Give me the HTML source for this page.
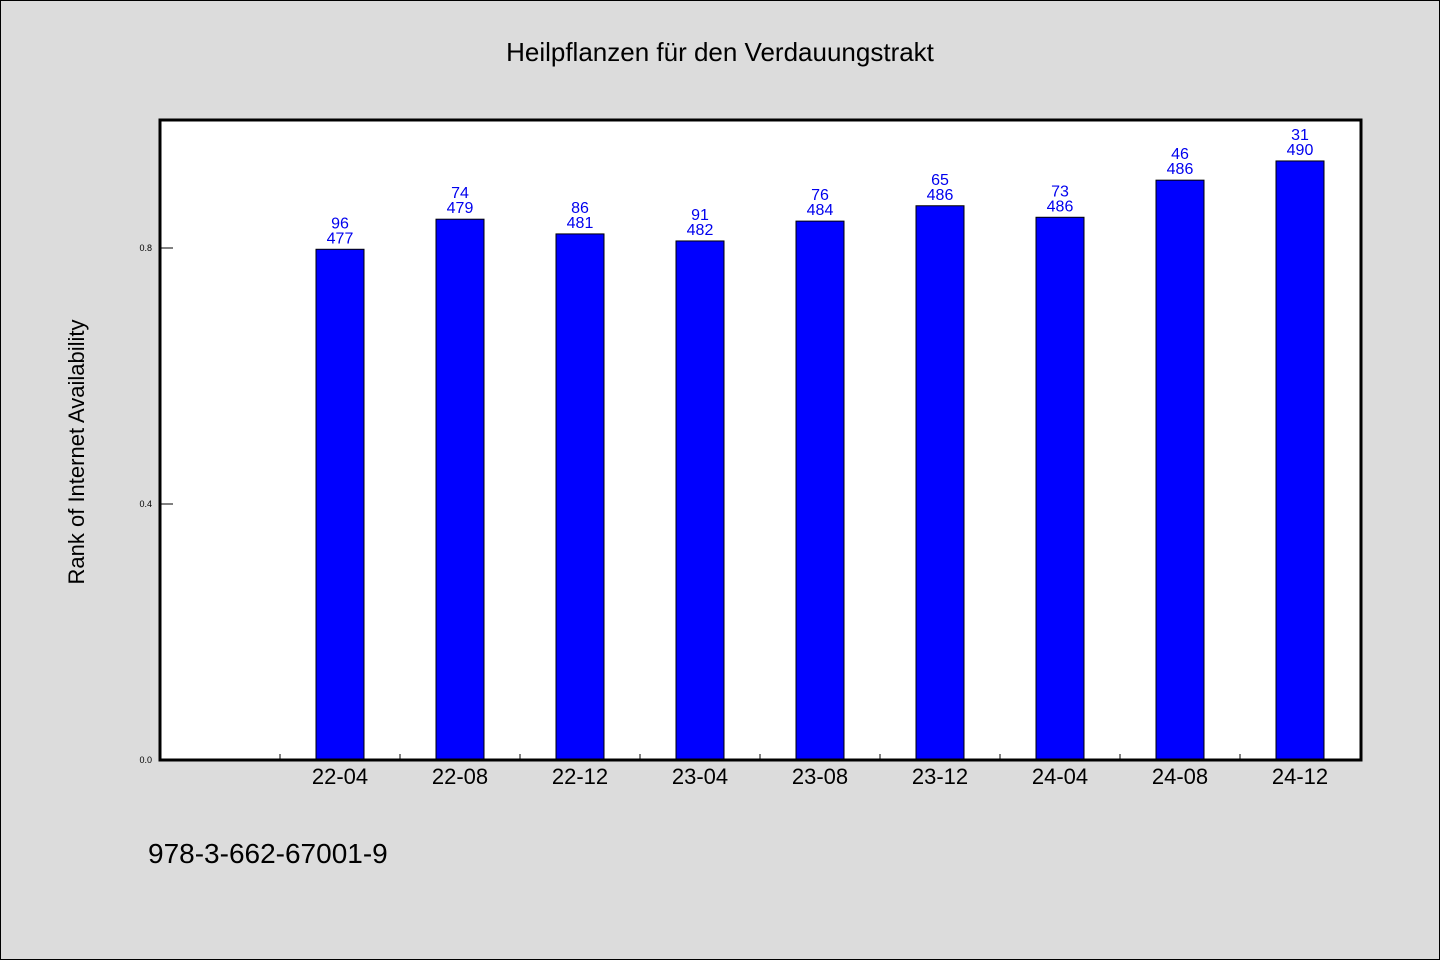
<!DOCTYPE html>
<html><head><meta charset="utf-8"><style>
body{margin:0;background:#dcdcdc;}
svg{display:block;font-family:"WenQuanYi Zen Hei","Liberation Sans",sans-serif;}
</style></head><body>
<svg id="chart" width="1440" height="960" xmlns="http://www.w3.org/2000/svg">
<rect x="0.5" y="0.5" width="1439" height="959" fill="#dcdcdc" stroke="#000"/>
<text x="720" y="61" text-anchor="middle" font-size="26" fill="#000">Heilpflanzen für den Verdauungstrakt</text>
<rect x="160" y="120" width="1200" height="640" fill="#fff"/>
<g id="bars"></g>
<rect x="160" y="120" width="1201" height="640" fill="none" stroke="#000" stroke-width="3"/>
<text transform="translate(84,452) rotate(-90)" text-anchor="middle" font-size="22" fill="#000">Rank of Internet Availability</text>
<text x="148" y="863" font-size="28" fill="#000">978-3-662-67001-9</text>
</svg>
<script>
const categories=["22-04","22-08","22-12","23-04","23-08","23-12","24-04","24-08","24-12"];
const values=[0.798,0.845,0.822,0.811,0.842,0.866,0.848,0.906,0.936];
const labelTop=["96","74","86","91","76","65","73","46","31"];
const labelBottom=["477","479","481","482","484","486","486","486","490"];
const yTicks=[0.0,0.4,0.8];
const NS="http://www.w3.org/2000/svg";
const svg=document.getElementById('chart');
const g=document.getElementById('bars');
const x0=160,bw=120,y0=760,ppu=640;
const xc=i=>x0+bw*(i+1.5);
const ys=v=>y0-v*ppu;
function el(t,a,p){const e=document.createElementNS(NS,t);for(const k in a)e.setAttribute(k,a[k]);(p||g).appendChild(e);return e;}
yTicks.forEach((t,i)=>{
 const l=el('line',{x1:161,x2:173,y1:ys(t),y2:ys(t),stroke:'#000','stroke-width':1});
 
 
 const tx=el('text',{x:152,y:ys(t)+3,'text-anchor':'end','font-size':9,fill:'#000'});
 tx.textContent=t.toFixed(1);
 
 
});
for(let i=0;i<=categories.length;i++){
 const xt=x0+bw*(i+1);
 if(i<categories.length){
 const l=el('line',{x1:xt,x2:xt,y1:754,y2:760,stroke:'#000'});
 
 }
}
categories.forEach((c,i)=>{
 const cx=xc(i),top=ys(values[i]);
 const r=el('rect',{x:cx-24,y:top,width:48,height:y0-top,fill:'#0000ff',stroke:'#000','stroke-width':1});
 
 
 const t1=el('text',{x:cx,y:top-21,'text-anchor':'middle','font-size':16,fill:'#0000ee'});
 t1.textContent=labelTop[i];
 
 
 const t2=el('text',{x:cx,y:top-6,'text-anchor':'middle','font-size':16,fill:'#0000ee'});
 t2.textContent=labelBottom[i];
 
 
 const xl=el('text',{x:cx,y:784,'text-anchor':'middle','font-size':22,fill:'#000'});
 xl.textContent=c;
 
 
});
</script>
</body></html>
